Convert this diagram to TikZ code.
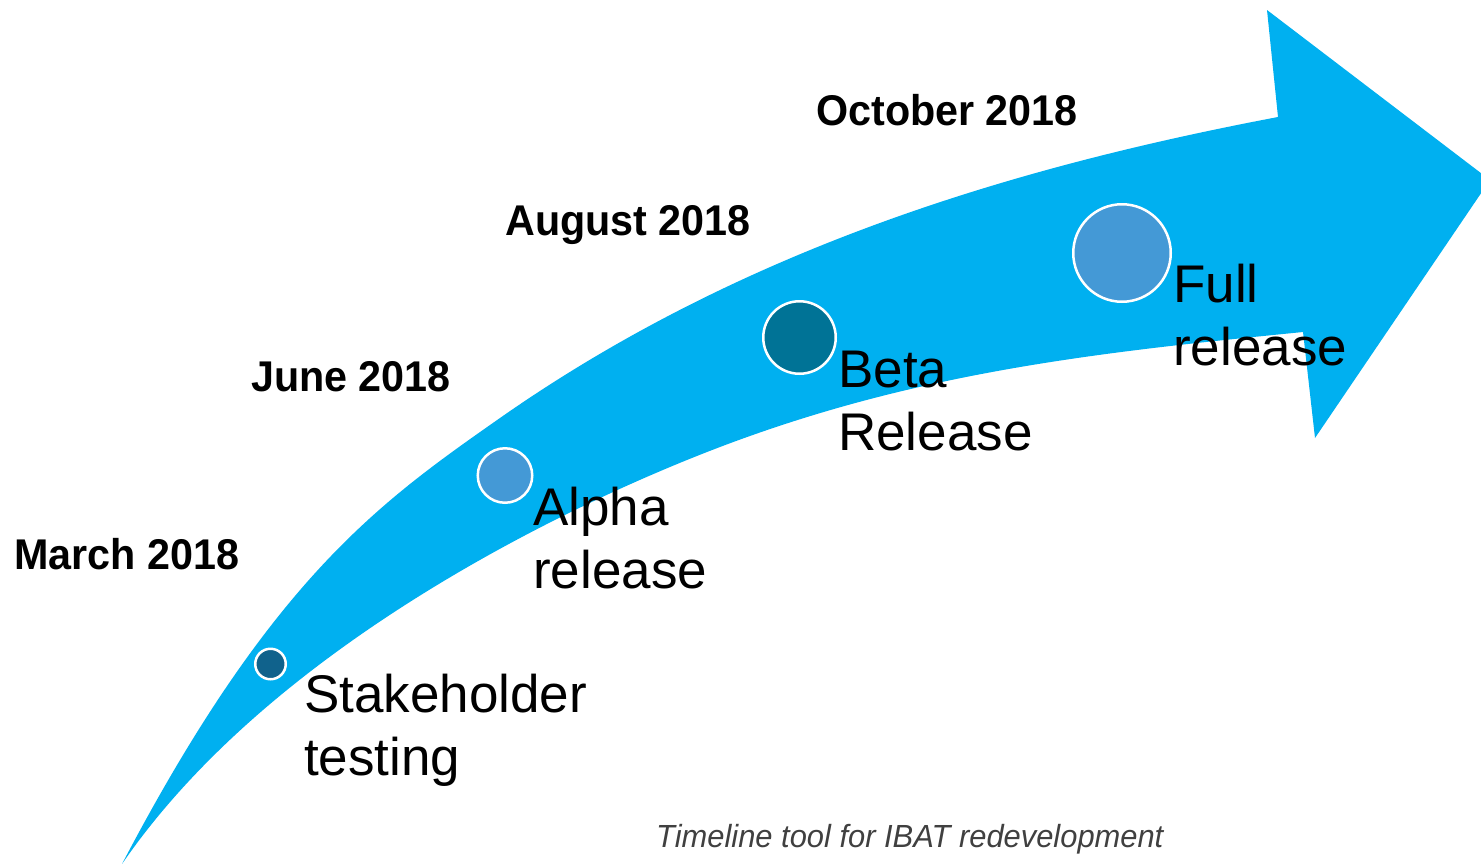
\documentclass[tikz,border=0pt]{standalone}
\usepackage{fontspec}
\setmainfont{Liberation Sans}
\newfontfamily\capfont{Liberation Sans}[FakeStretch=0.965]
\newfontfamily\datefont{Liberation Sans}[FakeStretch=0.96]
\definecolor{arrowblue}{HTML}{00B0F0}
\definecolor{darkdot}{HTML}{10628C}
\definecolor{lightdot}{HTML}{4499D6}
\definecolor{tealdot}{HTML}{007396}
\definecolor{capgray}{HTML}{404040}
\tikzset{
  milestone/.style={circle, draw=white, line width=2.5pt, inner sep=0pt},
  biglabel/.style={font=\fontsize{53}{63}\selectfont, align=left, inner sep=0pt, anchor=base west},
  datelabel/.style={font=\datefont\bfseries\fontsize{43}{50}\selectfont, inner sep=0pt, anchor=base west},
  caption/.style={font=\capfont\itshape\fontsize{32}{38}\selectfont, text=capgray, inner sep=0pt, anchor=base west}
}
\begin{document}
\begin{tikzpicture}[x=1pt,y=-1pt]
\useasboundingbox (0,0) rectangle (1481,863);
\begin{scope}
\clip (0,0) rectangle (1481,863);
\fill[arrowblue] (122,864) .. controls (272,578) and (380,502) .. (500,418)
  .. controls (750,243) and (1028,164.5) .. (1278,117)
  -- (1267,10) -- (1490,180) -- (1315,438) -- (1303,332)
  .. controls (1103,352) and (920,371) .. (720,447)
  .. controls (570,504) and (272,645.5) .. (122,864) -- cycle;
\end{scope}
\node[milestone, fill=darkdot, minimum size=30.5pt] (m1) at (270.5,664) {};
\node[milestone, fill=lightdot, minimum size=54.5pt] (m2) at (505,475.5) {};
\node[milestone, fill=tealdot, minimum size=72.5pt] (m3) at (799.5,337.5) {};
\node[milestone, fill=lightdot, minimum size=97.5pt] (m4) at (1122,253) {};
\node[biglabel] (l1) at (304,775) {Stakeholder\\testing};
\node[biglabel] (l2) at (533,588) {Alpha\\release};
\node[biglabel] (l3) at (838,450) {Beta\\Release};
\node[biglabel] (l4) at (1173,365) {Full\\release};
\node[datelabel] (d1) at (14,569) {March 2018};
\node[datelabel] (d2) at (251,391) {June 2018};
\node[datelabel] (d3) at (505,235) {August 2018};
\node[datelabel] (d4) at (816,125) {October 2018};
\node[caption] (cap) at (656,847) {Timeline tool for IBAT redevelopment};
\end{tikzpicture}
\end{document}
